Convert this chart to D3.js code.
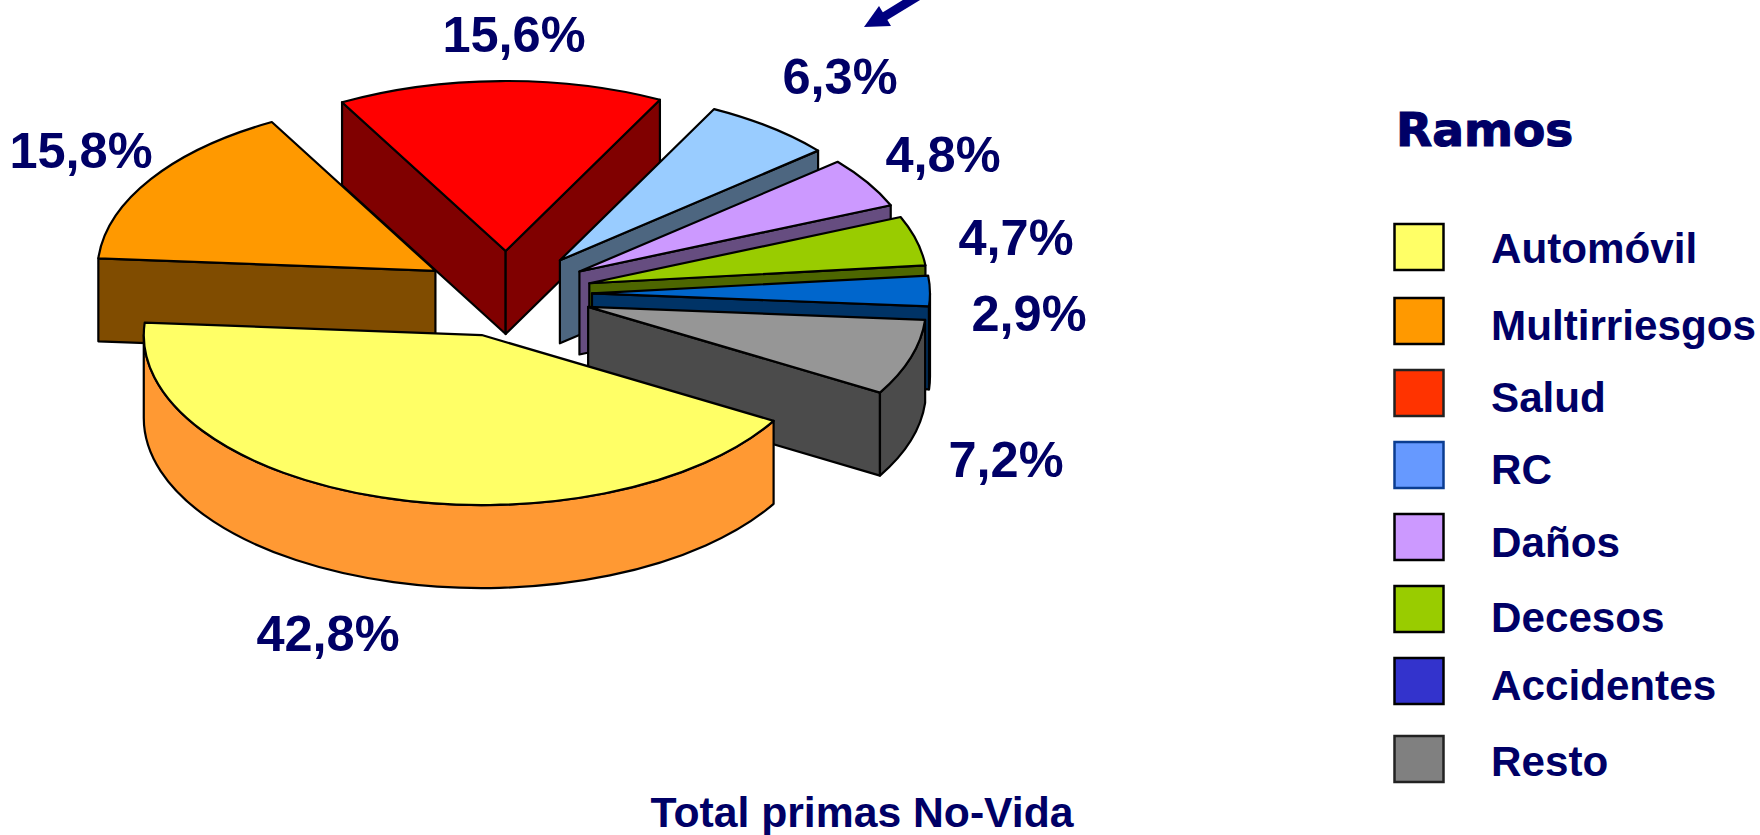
<!DOCTYPE html>
<html>
<head>
<meta charset="utf-8">
<script src="https://cdn.jsdelivr.net/npm/d3@7"></script>
<style>
  html, body { margin: 0; background: #fff; }
  text { font-family: "Liberation Sans", Arial, sans-serif; font-weight: bold; fill: #000066; }
</style>
</head>
<body>
<svg id="chart"></svg>
<script>
const ramos = ["Automóvil", "Multirriesgos", "Salud", "RC", "Daños", "Decesos", "Accidentes", "Resto"];
const valores = [42.8, 15.8, 15.6, 6.3, 4.8, 4.7, 2.9, 7.2];
const etiquetas = ["42,8%", "15,8%", "15,6%", "6,3%", "4,8%", "4,7%", "2,9%", "7,2%"];

const colorTop = ["#FFFF66", "#FF9900", "#FF0000", "#99CCFF", "#CC99FF", "#99CC00", "#0066CC", "#969696"];
const colorSide = ["#FF9933", "#804C00", "#800000", "#4D6680", "#664D80", "#4D6600", "#003366", "#4B4B4B"];
const colorLegend = ["#FFFF66", "#FF9900", "#FF3300", "#6699FF", "#CC99FF", "#99CC00", "#3333CC", "#808080"];
const borderLegend = ["#000", "#000", "#222", "#0B3D91", "#000", "#000", "#000", "#222"];

// label and legend placement
const labelX = [328, 81, 514, 840, 943, 1016, 1029, 1006];
const labelY = [651, 168, 52, 94, 172, 255, 331, 477];
const legendBoxY = [223, 297, 369, 441, 513, 585, 657, 735];
const legendTextY = [263, 340, 412, 484, 557, 632, 700, 776];

const width = 1760, height = 835;
const cx = 507, cy = 294, rx = 338, ry = 170, depth = 83, explodeX = 85, explodeY = 43;

const svg = d3.select("#chart").attr("width", width).attr("height", height)
    .style("display", "block");

// pie angles: 0 is screen right, going clockwise, first slice starts at 30.3deg
const start = 30.3 * Math.PI / 180;
const arcs = d3.pie().sort(null).startAngle(start).endAngle(start + 2 * Math.PI)(valores);

const slices = arcs.map((a, i) => {
    const mid = (a.startAngle + a.endAngle) / 2;
    return {
        i,
        t0: a.startAngle,
        t1: a.endAngle,
        ax: cx + explodeX * Math.cos(mid),
        ay: cy + explodeY * Math.sin(mid)
    };
});

const rim = (s, t) => [s.ax + rx * Math.cos(t), s.ay + ry * Math.sin(t)];

function topPath(s) {
    const p0 = rim(s, s.t0), p1 = rim(s, s.t1);
    const large = s.t1 - s.t0 > Math.PI ? 1 : 0;
    return `M${s.ax},${s.ay}L${p0}A${rx},${ry} 0 ${large} 1 ${p1}Z`;
}

function wallPath(s, t) {
    const p = rim(s, t);
    return `M${s.ax},${s.ay}L${p}L${p[0]},${p[1] + depth}L${s.ax},${s.ay + depth}Z`;
}

// outer wall, only the part that faces the viewer (0 to 180deg, or 360 to 540deg)
function rimPath(s) {
    const ranges = [[0, Math.PI], [2 * Math.PI, 3 * Math.PI]];
    let d = "";
    ranges.forEach(([lo, hi]) => {
        const a = Math.max(s.t0, lo), b = Math.min(s.t1, hi);
        if (b <= a) return;
        const p0 = rim(s, a), p1 = rim(s, b);
        d += `M${p0}A${rx},${ry} 0 0 1 ${p1}L${p1[0]},${p1[1] + depth}` +
             `A${rx},${ry} 0 0 0 ${p0[0]},${p0[1] + depth}Z`;
    });
    return d;
}

// painter's order, back slices first and the big yellow one last
const order = [2, 1, 3, 4, 5, 6, 7, 0];

const g = svg.selectAll(".slice")
    .data(order.map(i => slices[i]))
    .enter().append("g")
    .attr("class", "slice")
    .attr("stroke", "#000")
    .attr("stroke-width", 2.2)
    .attr("stroke-linejoin", "round");

g.each(function (s) {
    const sel = d3.select(this);
    if (Math.cos(s.t0) < 0) sel.append("path").attr("d", wallPath(s, s.t0)).attr("fill", colorSide[s.i]);
    if (Math.cos(s.t1) > 0) sel.append("path").attr("d", wallPath(s, s.t1)).attr("fill", colorSide[s.i]);
    const r = rimPath(s);
    if (r) sel.append("path").attr("d", r).attr("fill", colorSide[s.i]);
    sel.append("path").attr("d", topPath(s)).attr("fill", colorTop[s.i]);
});

svg.selectAll(".label")
    .data(etiquetas)
    .enter().append("text")
    .attr("class", "label")
    .attr("x", (d, i) => labelX[i])
    .attr("y", (d, i) => labelY[i])
    .attr("text-anchor", "middle")
    .style("font-size", "50.5px")
    .text(d => d);

// arrow coming in from the top edge
svg.append("line")
    .attr("x1", 918).attr("y1", -4).attr("x2", 882).attr("y2", 18)
    .attr("stroke", "#000080").attr("stroke-width", 9);
svg.append("path")
    .attr("d", "M864,27L879,6L891,26Z")
    .attr("fill", "#000080");

// legend
svg.append("text")
    .attr("x", 1396).attr("y", 146)
    .style("font-family", "'DejaVu Sans'")
    .style("font-size", "47px")
    .style("stroke", "#000066")
    .style("stroke-width", 1.2)
    .text("Ramos");

svg.selectAll(".legend-box")
    .data(ramos)
    .enter().append("rect")
    .attr("class", "legend-box")
    .attr("x", 1394.5)
    .attr("y", (d, i) => legendBoxY[i] + 1)
    .attr("width", 49)
    .attr("height", 46)
    .attr("fill", (d, i) => colorLegend[i])
    .attr("stroke", (d, i) => borderLegend[i])
    .attr("stroke-width", 2.5);

svg.selectAll(".legend-text")
    .data(ramos)
    .enter().append("text")
    .attr("class", "legend-text")
    .attr("x", 1491)
    .attr("y", (d, i) => legendTextY[i])
    .style("font-size", "42.2px")
    .text(d => d);

svg.append("text")
    .attr("x", 862).attr("y", 827)
    .attr("text-anchor", "middle")
    .style("font-size", "42.7px")
    .text("Total primas No-Vida");
</script>
</body>
</html>
